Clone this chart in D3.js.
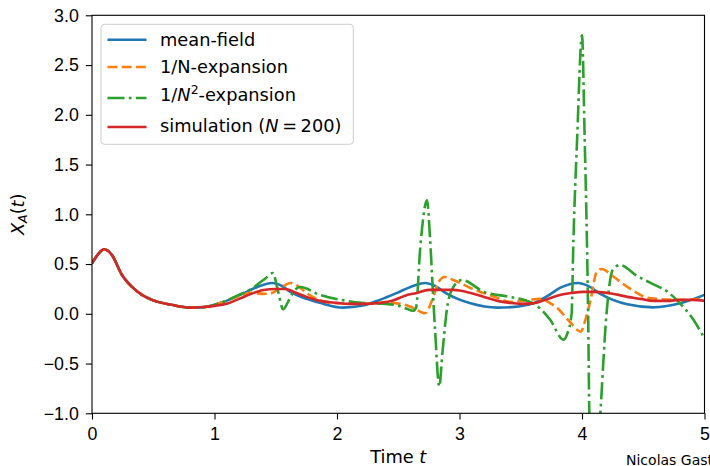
<!DOCTYPE html>
<html lang="en">
<head>
  <meta charset="UTF-8">
  <title>X_A(t) expansions</title>
  <script src="https://d3js.org/d3.v7.min.js"></script>
  <style>
    body { margin: 0; background: #fff; }
    svg { display: block; font-family: "DejaVu Sans", sans-serif; }
    .axis text { font-size: 17.8px; fill: #000; }
    .axis path, .axis line { stroke: #000; stroke-width: 1.1; }
  </style>
</head>
<body>
<svg width="710" height="466"></svg>
<script>
  // values: [t, X_A(t)]
  const meanField = [[0,0.507],[0.05,0.6],[0.1,0.648],[0.163,0.59],[0.245,0.39],[0.327,0.27],[0.408,0.19],[0.49,0.14],[0.65,0.09],[0.8,0.062],[0.9,0.065],[1.05,0.11],[1.21,0.19],[1.35,0.27],[1.47,0.31],[1.55,0.28],[1.62,0.22],[1.75,0.15],[1.86,0.11],[2.05,0.062],[2.2,0.08],[2.35,0.14],[2.49,0.21],[2.6,0.27],[2.72,0.31],[2.8,0.28],[2.9,0.2],[3.09,0.105],[3.31,0.062],[3.45,0.07],[3.6,0.105],[3.72,0.18],[3.82,0.26],[3.97,0.31],[4.05,0.28],[4.15,0.2],[4.37,0.095],[4.58,0.065],[4.8,0.105],[5.0,0.19]];

  const expansion1 = [[0,0.507],[0.05,0.6],[0.1,0.648],[0.163,0.59],[0.245,0.39],[0.327,0.27],[0.408,0.19],[0.49,0.14],[0.65,0.09],[0.8,0.062],[0.9,0.065],[1.05,0.11],[1.2,0.18],[1.3,0.21],[1.4,0.2],[1.47,0.21],[1.55,0.27],[1.62,0.31],[1.68,0.28],[1.75,0.21],[1.96,0.11],[2.2,0.1],[2.4,0.11],[2.52,0.1],[2.62,0.06],[2.72,0.005],[2.78,0.15],[2.83,0.32],[2.88,0.37],[2.95,0.34],[3.09,0.26],[3.31,0.16],[3.41,0.12],[3.5,0.13],[3.66,0.15],[3.75,0.1],[3.8,0.055],[3.9,-0.08],[3.99,-0.18],[4.03,-0.05],[4.07,0.14],[4.12,0.42],[4.16,0.45],[4.25,0.38],[4.37,0.27],[4.56,0.155],[4.8,0.14],[5.0,0.15]];

  const expansion2 = [[0,0.507],[0.05,0.6],[0.1,0.648],[0.163,0.59],[0.245,0.39],[0.327,0.27],[0.408,0.19],[0.49,0.14],[0.65,0.09],[0.8,0.062],[0.9,0.065],[1.05,0.11],[1.2,0.19],[1.3,0.25],[1.42,0.36],[1.476,0.41],[1.52,0.22],[1.56,0.045],[1.6,0.12],[1.65,0.23],[1.7,0.27],[1.86,0.19],[2.03,0.14],[2.2,0.11],[2.4,0.1],[2.5,0.08],[2.57,0.05],[2.62,0.03],[2.645,0.06],[2.68,0.67],[2.735,1.14],[2.76,0.75],[2.785,0.17],[2.8,-0.15],[2.835,-0.73],[2.86,-0.4],[2.9,0.07],[2.95,0.27],[3.02,0.34],[3.2,0.22],[3.41,0.17],[3.55,0.13],[3.62,0.09],[3.7,0.0],[3.74,-0.06],[3.85,-0.26],[3.88,-0.2],[3.915,0.0],[3.93,0.74],[3.96,1.75],[4.0,2.8],[4.022,1.75],[4.04,0.74],[4.05,0.0],[4.06,-1.0],[4.1,-2.0],[4.15,-1.0],[4.2,0.0],[4.25,0.44],[4.31,0.49],[4.45,0.38],[4.56,0.31],[4.7,0.22],[4.8,0.105],[4.91,-0.06],[5.0,-0.25]];

  const simulation = [[0,0.507],[0.05,0.6],[0.1,0.648],[0.163,0.59],[0.245,0.39],[0.327,0.27],[0.408,0.19],[0.49,0.14],[0.65,0.09],[0.8,0.062],[0.9,0.068],[1.0,0.08],[1.1,0.1],[1.2,0.15],[1.3,0.2],[1.4,0.24],[1.5,0.25],[1.58,0.25],[1.65,0.22],[1.75,0.17],[1.86,0.13],[2.0,0.11],[2.1,0.1],[2.22,0.1],[2.35,0.11],[2.45,0.13],[2.55,0.18],[2.65,0.21],[2.75,0.24],[2.85,0.24],[2.95,0.24],[3.09,0.21],[3.2,0.17],[3.31,0.13],[3.41,0.11],[3.5,0.1],[3.6,0.105],[3.7,0.14],[3.82,0.19],[3.92,0.21],[4.0,0.22],[4.1,0.22],[4.2,0.21],[4.3,0.19],[4.37,0.17],[4.48,0.15],[4.58,0.13],[4.7,0.13],[4.8,0.14],[4.9,0.14],[5.0,0.13]];

  const xTicks = [0, 1, 2, 3, 4, 5];
  const yTicks = [-1.0, -0.5, 0.0, 0.5, 1.0, 1.5, 2.0, 2.5, 3.0];

  const series = [
    { data: meanField, color: "#1f77b4", dash: null },
    { data: expansion1, color: "#ff7f0e", dash: "9.9,4.3" },
    { data: expansion2, color: "#2ca02c", dash: "17,4.3,2.7,4.3" },
    { data: simulation, color: "#d62728", dash: null }
  ];

  const svg = d3.select("svg");
  const plotLeft = 92, plotRight = 704.5, plotTop = 15.3, plotBottom = 413.3;
  const fs = 17.8;

  const x = d3.scaleLinear().domain([0, 5]).range([plotLeft, plotRight]);
  const y = d3.scaleLinear().domain([-1, 3]).range([plotBottom, plotTop]);

  svg.append("clipPath").attr("id", "plot")
    .append("rect").attr("x", plotLeft).attr("y", plotTop)
    .attr("width", plotRight - plotLeft).attr("height", plotBottom - plotTop);

  const line = d3.line()
    .x(d => x(d[0]))
    .y(d => y(d[1]))
    .curve(d3.curveMonotoneX);

  svg.append("g").attr("clip-path", "url(#plot)")
    .selectAll("path")
    .data(series)
    .join("path")
    .attr("d", d => line(d.data))
    .attr("fill", "none")
    .attr("stroke", d => d.color)
    .attr("stroke-width", 2.6)
    .attr("stroke-dasharray", d => d.dash)
    .attr("stroke-linejoin", "round");

  // axes
  svg.append("g").attr("class", "axis")
    .attr("transform", `translate(0,${plotBottom})`)
    .call(d3.axisBottom(x).tickValues(xTicks).tickFormat(d3.format("d")).tickSize(6.2).tickPadding(7.6));

  svg.append("g").attr("class", "axis")
    .attr("transform", `translate(${plotLeft},0)`)
    .call(d3.axisLeft(y).tickValues(yTicks).tickFormat(d3.format(".1f")).tickSize(6.2).tickPadding(7));

  svg.selectAll(".axis .domain").remove();

  // spines
  svg.append("rect")
    .attr("x", plotLeft).attr("y", plotTop)
    .attr("width", plotRight - plotLeft).attr("height", plotBottom - plotTop)
    .attr("fill", "none").attr("stroke", "#000").attr("stroke-width", 1.1);

  // axis labels
  const xl = svg.append("text")
    .attr("x", (plotLeft + plotRight) / 2).attr("y", 463)
    .attr("text-anchor", "middle").attr("font-size", fs);
  xl.append("tspan").text("Time ");
  xl.append("tspan").attr("font-style", "italic").text("t");

  const yl = svg.append("text")
    .attr("transform", `translate(23.5,${(plotTop + plotBottom) / 2}) rotate(-90)`)
    .attr("text-anchor", "middle").attr("font-size", fs);
  yl.append("tspan").attr("font-style", "italic").text("X");
  yl.append("tspan").attr("font-style", "italic").attr("font-size", 12.5).attr("dy", 3.5).text("A");
  yl.append("tspan").attr("dy", -3.5).text("(");
  yl.append("tspan").attr("font-style", "italic").text("t");
  yl.append("tspan").text(")");

  // legend
  const legend = svg.append("g");
  legend.append("rect")
    .attr("x", 101).attr("y", 24.3).attr("width", 252.3).attr("height", 120)
    .attr("rx", 3.5)
    .attr("fill", "#fff").attr("fill-opacity", 0.8)
    .attr("stroke", "#cccccc").attr("stroke-width", 1);

  const rowY = [39.7, 67, 98, 127];
  const rows = legend.selectAll("g.row")
    .data(series)
    .join("g").attr("class", "row")
    .attr("transform", (d, i) => `translate(0,${rowY[i]})`);

  rows.append("line")
    .attr("x1", 107.5).attr("x2", 146.5)
    .attr("stroke", d => d.color)
    .attr("stroke-width", 2.6)
    .attr("stroke-dasharray", d => d.dash);

  const labels = rows.append("text")
    .attr("x", 160).attr("y", (d, i) => [6.6, 6, 3.3, 5][i]).attr("font-size", fs);

  labels.each(function(d, i) {
    const t = d3.select(this);
    if (i === 0) t.text("mean-field");
    if (i === 1) t.text("1/N-expansion");
    if (i === 2) {
      t.append("tspan").text("1/");
      t.append("tspan").attr("font-style", "italic").text("N");
      t.append("tspan").attr("font-size", 12.5).attr("dy", -7).text("2");
      t.append("tspan").attr("dy", 7).text("-expansion");
    }
    if (i === 3) {
      t.append("tspan").text("simulation (");
      t.append("tspan").attr("font-style", "italic").text("N");
      t.append("tspan").text("\u2009=\u2009200)");
    }
  });

  svg.append("text")
    .attr("x", 626).attr("y", 465)
    .attr("font-size", 14)
    .text("Nicolas Gast");
</script>
</body>
</html>
